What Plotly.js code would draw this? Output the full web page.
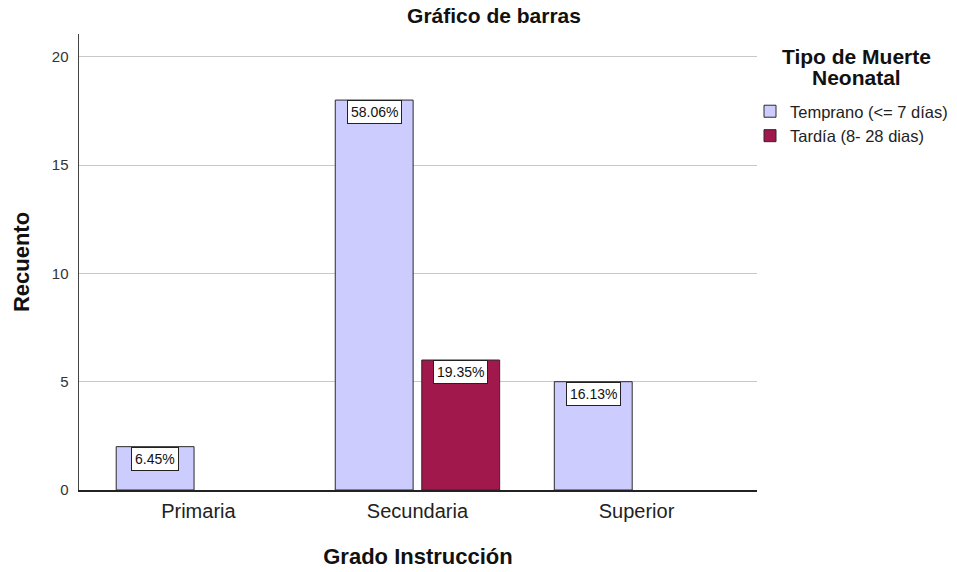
<!DOCTYPE html>
<html>
<head>
<meta charset="utf-8">
<script src="https://cdn.plot.ly/plotly-3.0.1.min.js"></script>
<style>body{margin:0;background:#fff}#chart{width:957px;height:572px}</style>
</head>
<body>
<div id="chart"></div>
<script>
const categories = ['Primaria', 'Secundaria', 'Superior'];
const seriesNames = ['Temprano (<= 7 días)', 'Tardía (8- 28 dias)'];
const temprano = [2, 18, 5];
const tardia = [null, 6, null];
const tempranoPct = ['6.45%', '58.06%', '16.13%'];
const tardiaPct = [null, '19.35%', null];
const legendHeading = ['Tipo de Muerte', 'Neonatal'];
const colors = ['#ccccff', '#a0184c'];

const font = 'Arial, "Liberation Sans", sans-serif';

// paper spans almost the whole width; the plot itself only uses the left part
const W = 957, H = 572, L = 79, R = 4, plotRight = 757;
const paperX = (px) => (px - L) / (W - L - R);
const paperY = (py) => (490 - py) / 456;

const traces = [temprano, tardia].map((vals, i) => ({
  type: 'bar', name: seriesNames[i], x: categories, y: vals,
  marker: {color: colors[i], line: {color: '#2a2a2a', width: 1}},
  hoverinfo: 'none'
}));

// percentage boxes sitting at the top of each bar
const annotations = [];
[[temprano, tempranoPct, -43], [tardia, tardiaPct, 43]].forEach(([vals, pcts, shift]) => {
  vals.forEach((v, j) => {
    if (v == null) return;
    annotations.push({x: categories[j], y: v, xref: 'x', yref: 'y', text: pcts[j], showarrow: false,
      xshift: shift, yanchor: 'top', yshift: 0, bgcolor: '#fff', bordercolor: '#222', borderwidth: 1, borderpad: 3,
      font: {family: font, size: 14, color: '#111'}});
  });
});
// legend heading, centred over the items like the original (two lines, tight spacing)
legendHeading.forEach((line, k) => {
  annotations.push({xref: 'paper', yref: 'paper', x: paperX(856), y: paperY(56 + 22 * k), xanchor: 'center', yanchor: 'middle',
    text: '<b>' + line + '</b>', showarrow: false, font: {family: font, size: 21, color: '#111'}});
});

const layout = {
  width: W, height: H,
  margin: {l: L, r: R, t: 34, b: 82},
  paper_bgcolor: '#fff', plot_bgcolor: '#fff',
  font: {family: font, color: '#222'},
  title: {text: '<b>Gráfico de barras</b>', xref: 'paper', x: paperX(494), xanchor: 'center', y: 0.972, yanchor: 'middle',
    font: {size: 21, color: '#111'}},
  barmode: 'group', bargap: 0.21, bargroupgap: 0.1,
  xaxis: {domain: [0, (plotRight - L) / (W - L - R)], range: [-0.545, 2.55], showgrid: false, showline: true,
    linecolor: '#222', linewidth: 1.5, ticks: '', tickfont: {size: 20, color: '#222'}, ticklabelstandoff: 2,
    title: {text: '<b>Grado Instrucción</b>', font: {size: 22, color: '#111'}, standoff: 28}},
  yaxis: {range: [0, 21.05], tickvals: [0, 5, 10, 15, 20], showgrid: true, gridcolor: '#c8c8c8', gridwidth: 1,
    zeroline: false, showline: true, linecolor: '#444', linewidth: 1.5, ticks: '',
    tickfont: {size: 15, color: '#333'}, ticklabelstandoff: 6,
    title: {text: '<b>Recuento</b>', font: {size: 22, color: '#111'}, standoff: 16}},
  legend: {x: 1, xanchor: 'right', y: paperY(94), yanchor: 'top',
    traceorder: 'normal', font: {size: 16.5, color: '#222'}, itemwidth: 30, tracegroupgap: 0},
  annotations
};

Plotly.newPlot('chart', traces, layout, {staticPlot: true, displayModeBar: false});
</script>
</body>
</html>
